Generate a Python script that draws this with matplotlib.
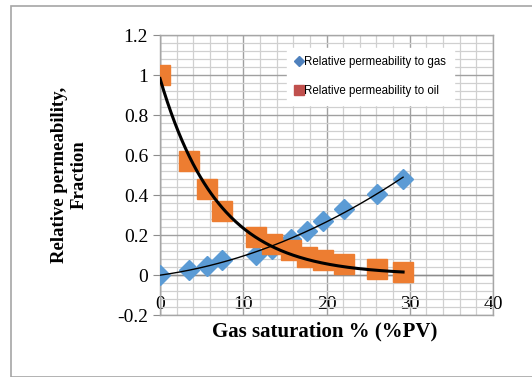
import numpy as np
import matplotlib
matplotlib.use("Agg")
import matplotlib.pyplot as plt
from matplotlib.lines import Line2D
from matplotlib.ticker import MultipleLocator

# Gas saturation (%PV) and relative permeabilities
gas_saturation = [0, 3.5, 5.6, 7.5, 11.5, 13.5, 15.7, 17.7, 19.6, 22.1, 26.1, 29.2]
krg = [0.0, 0.025, 0.045, 0.075, 0.10, 0.13, 0.18, 0.22, 0.27, 0.33, 0.405, 0.48]
kro = [1.0, 0.57, 0.43, 0.32, 0.19, 0.155, 0.125, 0.09, 0.075, 0.053, 0.03, 0.017]

x_ticks = [0, 10, 20, 30, 40]
y_ticks = [-0.2, 0, 0.2, 0.4, 0.6, 0.8, 1, 1.2]
y_tick_labels = ["-0.2", "0", "0.2", "0.4", "0.6", "0.8", "1", "1.2"]

blue = "#5B9BD5"
orange = "#ED7D31"

fig = plt.figure(figsize=(5.32, 3.77), dpi=100)
ax = fig.add_axes([160 / 532, 1 - 315 / 377, 333 / 532, 280 / 377])

# outer chart border
fig.patches.append(plt.Rectangle((11 / 532, 0.5 / 377), 530 / 532, 370.5 / 377,
                                 transform=fig.transFigure, fill=False,
                                 edgecolor="#a6a6a6", linewidth=1.2))

ax.set_xlim(0, 40)
ax.set_ylim(-0.2, 1.2)
ax.xaxis.set_major_locator(MultipleLocator(10))
ax.xaxis.set_minor_locator(MultipleLocator(2))
ax.yaxis.set_major_locator(MultipleLocator(0.2))
ax.yaxis.set_minor_locator(MultipleLocator(0.04))
ax.grid(True, which="major", color="#a0a0a0", linewidth=1.0, zorder=0)
ax.grid(True, which="minor", color="#d0d0d0", linewidth=0.9, zorder=0)
ax.set_axisbelow(True)
for s in ax.spines.values():
    s.set_color("#a6a6a6")
    s.set_linewidth(1.0)

ax.axhline(0, color="#8c8c8c", linewidth=1.0, zorder=1)
ax.axvline(0, color="#8c8c8c", linewidth=1.0, zorder=1)

ax.set_xticks(x_ticks)
ax.set_yticks(y_ticks)
ax.set_yticklabels(y_tick_labels)
ax.tick_params(axis="x", which="both", length=0, pad=-14, labelsize=14)
ax.tick_params(axis="y", which="major", length=5, color="#8c8c8c", pad=3.5, labelsize=14)
ax.tick_params(axis="y", which="minor", length=0)
for lab in ax.get_xticklabels() + ax.get_yticklabels():
    lab.set_fontfamily("Liberation Serif")

ax.plot(gas_saturation, krg, linestyle="none", marker="D", markersize=10,
        color=blue, zorder=3)
ax.plot(gas_saturation, kro, linestyle="none", marker="s", markersize=14,
        color=orange, zorder=3)

# trendlines: exponential for oil (least squares on y), 2nd order polynomial for gas
xa = np.array(gas_saturation)
ya = np.array(kro)
best = None
for b in np.linspace(-0.3, -0.01, 2901):
    e = np.exp(b * xa)
    a = np.sum(ya * e) / np.sum(e * e)
    err = np.sum((ya - a * e) ** 2)
    if best is None or err < best[0]:
        best = (err, a, b)
_, a_oil, b_oil = best
xs = np.linspace(xa.min(), xa.max(), 200)
ax.plot(xs, a_oil * np.exp(b_oil * xs), color="black", linewidth=2.2, zorder=4)
p = np.polyfit(gas_saturation, krg, 2)
ax.plot(xs, np.polyval(p, xs), color="black", linewidth=1.0, zorder=4)

handles = [
    Line2D([], [], linestyle="none", marker="D", markersize=5.5, color="#4F81BD"),
    Line2D([], [], linestyle="none", marker="s", markersize=7, color="#C0504D"),
]
leg = ax.legend(handles, ["Relative permeability to gas", "Relative permeability to oil"],
                loc="upper left", bbox_to_anchor=(287 / 532, 1 - 48 / 377),
                bbox_transform=fig.transFigure, frameon=True, fancybox=False,
                framealpha=1, edgecolor="white", handlelength=0.6, handletextpad=0.15,
                labelspacing=1.5, borderpad=0.7, borderaxespad=0,
                prop={"family": "Liberation Sans", "size": 8.3})
leg.set_zorder(5)

fig.text(69 / 532, 1 - 175 / 377, "Relative permeability,\nFraction", rotation=90,
         ha="center", va="center", multialignment="center", fontsize=13.5,
         fontweight="bold", family="Liberation Serif")
fig.text(325 / 532, 1 - 331 / 377, "Gas saturation % (%PV)", ha="center", va="center",
         fontsize=15, fontweight="bold", family="Liberation Serif")

fig.savefig("out.png", dpi=100)
